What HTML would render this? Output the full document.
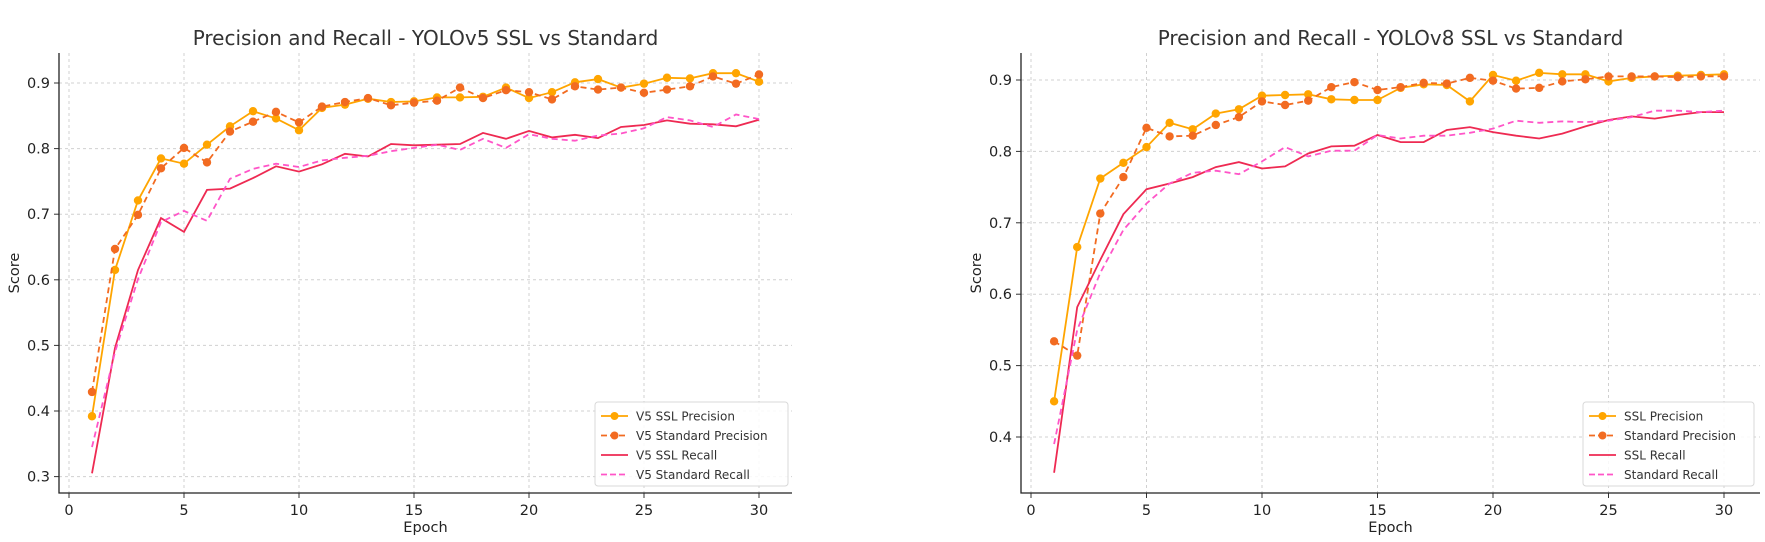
<!DOCTYPE html>
<html><head><meta charset="utf-8"><style>
html,body{margin:0;padding:0;background:#fff}
svg{display:block;font-family:"DejaVu Sans","Liberation Sans",sans-serif}
</style></head><body>
<svg id="chart" width="1765" height="542" viewBox="0 0 1765 542" xmlns="http://www.w3.org/2000/svg"></svg>
<script>
const epochs = [1,2,3,4,5,6,7,8,9,10,11,12,13,14,15,16,17,18,19,20,21,22,23,24,25,26,27,28,29,30];
const xTicks = [0,5,10,15,20,25,30];
const v5Ticks = [0.3,0.4,0.5,0.6,0.7,0.8,0.9];
const v8Ticks = [0.4,0.5,0.6,0.7,0.8,0.9];
const v5SslPrecision = [0.392,0.615,0.721,0.785,0.777,0.806,0.834,0.857,0.846,0.828,0.862,0.867,0.876,0.871,0.872,0.878,0.878,0.879,0.893,0.877,0.886,0.901,0.906,0.893,0.899,0.908,0.907,0.915,0.915,0.902];
const v5StdPrecision = [0.429,0.647,0.699,0.770,0.801,0.779,0.826,0.841,0.856,0.840,0.864,0.871,0.877,0.866,0.870,0.873,0.893,0.877,0.889,0.886,0.875,0.895,0.890,0.893,0.885,0.890,0.895,0.910,0.899,0.913];
const v5SslRecall = [0.305,0.496,0.615,0.694,0.673,0.737,0.739,0.755,0.773,0.765,0.776,0.792,0.788,0.807,0.805,0.806,0.807,0.824,0.815,0.827,0.817,0.821,0.816,0.833,0.836,0.843,0.838,0.837,0.834,0.844];
const v5StdRecall = [0.345,0.490,0.601,0.688,0.705,0.690,0.754,0.769,0.777,0.772,0.782,0.786,0.789,0.796,0.801,0.806,0.798,0.815,0.801,0.822,0.815,0.812,0.820,0.823,0.831,0.848,0.843,0.833,0.852,0.845];
const v8SslPrecision = [0.450,0.666,0.762,0.784,0.806,0.840,0.831,0.853,0.859,0.878,0.879,0.880,0.873,0.872,0.872,0.889,0.894,0.893,0.870,0.907,0.899,0.910,0.908,0.908,0.898,0.903,0.905,0.906,0.907,0.908];
const v8StdPrecision = [0.534,0.514,0.713,0.764,0.833,0.821,0.822,0.837,0.848,0.870,0.865,0.871,0.890,0.897,0.886,0.890,0.896,0.895,0.903,0.899,0.888,0.889,0.898,0.901,0.905,0.905,0.905,0.904,0.905,0.905];
const v8SslRecall = [0.350,0.582,0.648,0.712,0.747,0.755,0.764,0.778,0.785,0.776,0.779,0.797,0.807,0.808,0.823,0.813,0.813,0.830,0.834,0.827,0.822,0.818,0.825,0.835,0.844,0.849,0.846,0.851,0.855,0.855];
const v8StdRecall = [0.390,0.550,0.630,0.690,0.727,0.755,0.770,0.773,0.768,0.786,0.806,0.793,0.801,0.801,0.823,0.818,0.822,0.822,0.826,0.832,0.843,0.840,0.842,0.841,0.843,0.848,0.857,0.857,0.855,0.857];

const NS="http://www.w3.org/2000/svg";
const svg=document.getElementById('chart');
function mk(tag,attrs,parent){const e=document.createElementNS(NS,tag);for(const k in attrs)e.setAttribute(k,attrs[k]);(parent||svg).appendChild(e);return e;}

function panel(cfg){
  const g=mk('g',{});
  
  
  const xs=v=>cfg.x0+v*cfg.xStep;
  const ys=v=>cfg.y09-(v-0.9)*cfg.yUnit;
  xTicks.forEach(t=>{
    const l=mk('line',{x1:xs(t),x2:xs(t),y1:cfg.top,y2:cfg.bottom,stroke:'#d0d0d0','stroke-width':1,'stroke-dasharray':'3,3'},g);
    
    
    const tk=mk('line',{x1:xs(t),x2:xs(t),y1:cfg.bottom,y2:cfg.bottom+5,stroke:'#333','stroke-width':1},g);
    
    
    const tx=mk('text',{x:xs(t),y:cfg.bottom+22,'text-anchor':'middle','font-size':14.5,fill:'#222'},g);
    tx.textContent=t;
    
    
  });
  cfg.yTicks.forEach(t=>{
    const l=mk('line',{x1:cfg.left,x2:cfg.right,y1:ys(t),y2:ys(t),stroke:'#d0d0d0','stroke-width':1,'stroke-dasharray':'3,3'},g);
    
    
    const tk=mk('line',{x1:cfg.left-5,x2:cfg.left,y1:ys(t),y2:ys(t),stroke:'#333','stroke-width':1},g);
    
    
    const tx=mk('text',{x:cfg.left-9,y:ys(t)+5,'text-anchor':'end','font-size':14.5,fill:'#222'},g);
    tx.textContent=t.toFixed(1);
    
    
  });
  const sp=mk('path',{d:`M${cfg.left},${cfg.top}V${cfg.bottom}H${cfg.right}`,fill:'none',stroke:'#222','stroke-width':1.3},g);
  
  
  cfg.series.forEach(s=>{
    const d=epochs.map((e,i)=>(i?'L':'M')+xs(e).toFixed(1)+','+ys(s.data[i]).toFixed(1)).join('');
    const p=mk('path',{d,fill:'none',stroke:s.color,'stroke-width':1.8,'stroke-dasharray':s.dash?'6,4':'none'},g);
    
    
    if(s.marker){
      epochs.forEach((e,i)=>{
        const c=mk('circle',{cx:xs(e),cy:ys(s.data[i]),r:4.2,fill:s.color},g);
        
        
      });
    }
  });
  const ti=mk('text',{x:(cfg.left+cfg.right)/2,y:45,'text-anchor':'middle','font-size':20,fill:'#333'},g);
  ti.textContent=cfg.title;
  
  
  const xl=mk('text',{x:(cfg.left+cfg.right)/2,y:532,'text-anchor':'middle','font-size':14.5,fill:'#222'},g);
  xl.textContent='Epoch';
  
  
  const yx=cfg.left-40, yy=(cfg.top+cfg.bottom)/2;
  const yl=mk('text',{x:yx,y:yy,'text-anchor':'middle','font-size':14.5,fill:'#222',transform:`rotate(-90 ${yx} ${yy})`},g);
  yl.textContent='Score';
  
  
  const lg=mk('g',{},g);
  
  
  mk('rect',{x:cfg.lx,y:cfg.ly,width:cfg.lw,height:84,rx:3,fill:'#fff','fill-opacity':0.85,stroke:'#d8d8d8'},lg);
  cfg.series.forEach((s,i)=>{
    const y=cfg.ly+14+i*19.5;
    const ln=mk('line',{x1:cfg.lx+6,x2:cfg.lx+33,y1:y,y2:y,stroke:s.color,'stroke-width':1.8,'stroke-dasharray':s.dash?'6,3':'none'},lg);
    
    
    if(s.marker){const c=mk('circle',{cx:cfg.lx+19.5,cy:y,r:4,fill:s.color},lg);
      
      }
    const t=mk('text',{x:cfg.lx+41,y:y+4.5,'font-size':12,fill:'#333'},lg);
    t.textContent=s.label;
    
    
  });
}
panel({name:'yolov5-panel',title:'Precision and Recall - YOLOv5 SSL vs Standard',left:59,right:792,top:53,bottom:493,x0:69,xStep:23,y09:83,yUnit:656,yTicks:v5Ticks,lx:595,ly:402,lw:193,
  series:[{id:'v5-ssl-precision',label:'V5 SSL Precision',data:v5SslPrecision,color:'#FFA500',marker:true},
          {id:'v5-standard-precision',label:'V5 Standard Precision',data:v5StdPrecision,color:'#F26B21',marker:true,dash:true},
          {id:'v5-ssl-recall',label:'V5 SSL Recall',data:v5SslRecall,color:'#EE2A52'},
          {id:'v5-standard-recall',label:'V5 Standard Recall',data:v5StdRecall,color:'#FF55C8',dash:true}]});
panel({name:'yolov8-panel',title:'Precision and Recall - YOLOv8 SSL vs Standard',left:1021,right:1760,top:53,bottom:493,x0:1031,xStep:23.1,y09:80,yUnit:714,yTicks:v8Ticks,lx:1583,ly:402,lw:171,
  series:[{id:'v8-ssl-precision',label:'SSL Precision',data:v8SslPrecision,color:'#FFA500',marker:true},
          {id:'v8-standard-precision',label:'Standard Precision',data:v8StdPrecision,color:'#F26B21',marker:true,dash:true},
          {id:'v8-ssl-recall',label:'SSL Recall',data:v8SslRecall,color:'#EE2A52'},
          {id:'v8-standard-recall',label:'Standard Recall',data:v8StdRecall,color:'#FF55C8',dash:true}]});
</script>
</body></html>
